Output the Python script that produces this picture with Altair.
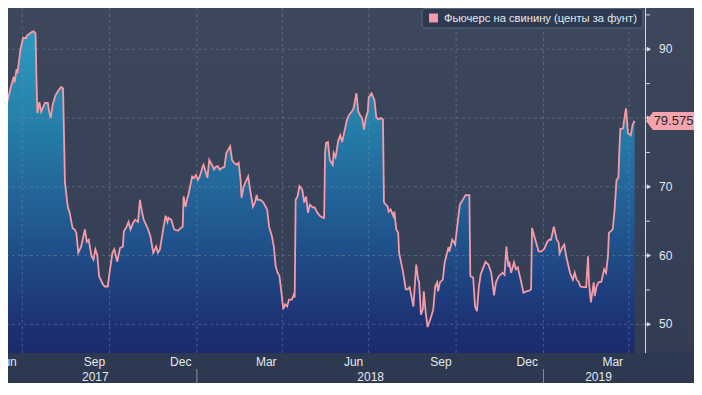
import altair as alt
import pandas as pd

# ---- data (days since 2017-06-08, futures price) ----
days = [0, 3, 5, 7, 11, 14, 15, 17, 18, 21, 24, 27, 28, 33, 35, 37, 38, 39, 41, 43,
        45, 47, 50, 51, 53, 55, 58, 61, 64, 66, 68, 71, 73, 76, 78, 80, 82, 85, 89, 91,
        93, 96, 98, 100, 102, 104, 108, 110, 113, 115, 118, 120, 123, 126, 129, 130, 133, 135, 137, 140,
        142, 145, 147, 149, 151, 155, 158, 161, 164, 166, 168, 172, 174, 176, 177, 180, 183, 187, 190, 192,
        193, 195, 197, 198, 202, 204, 206, 208, 210, 213, 214, 218, 220, 224, 225, 227, 229, 231, 234, 236,
        238, 242, 244, 246, 249, 251, 253, 254, 256, 258, 261, 263, 266, 268, 270, 271, 274, 277, 281, 283,
        286, 288, 290, 292, 294, 296, 298, 300, 302, 304, 307, 309, 310, 311, 313, 315, 318, 320, 322, 324,
        326, 329, 331, 334, 337, 340, 341, 342, 343, 345, 347, 350, 351, 353, 356, 358, 360, 362, 365, 367,
        370, 372, 375, 377, 379, 381, 383, 385, 387, 388, 391, 394, 396, 398, 401, 403, 404, 406, 408, 409,
        411, 414, 415, 417, 419, 420, 424, 427, 429, 431, 435, 436, 438, 440, 441, 443, 445, 446, 448, 450,
        454, 456, 458, 460, 461, 463, 466, 468, 472, 473, 476, 478, 479, 482, 484, 487, 490, 494, 495, 498,
        500, 502, 504, 506, 511, 514, 517, 520, 522, 525, 529, 531, 533, 535, 536, 538, 541, 543, 545, 548,
        551, 554, 557, 559, 560, 562, 567, 570, 573, 576, 578, 580, 583, 586, 588, 589, 592, 594, 596, 598,
        600, 603, 605, 607, 609, 611, 614, 617, 619, 620, 622, 625, 626, 628, 630, 633, 636, 638, 640, 641,
        645, 647, 649, 651, 652, 653, 656, 657, 659, 661, 664, 666, 668]

prices = [82.2, 82.6, 83.0, 82.2, 84.5, 86.0, 85.2, 87.1, 86.5, 89.9, 91.7, 91.6, 92.0, 92.5, 92.6, 92.3, 85.5, 80.7, 82.3, 80.9,
          81.6, 82.2, 82.2, 81.2, 80.0, 81.9, 83.3, 84.0, 84.5, 84.3, 70.6, 67.1, 66.2, 64.0, 63.8, 63.3, 60.4, 61.3, 63.8, 62.0,
          62.3, 59.9, 59.4, 60.9, 60.1, 57.0, 55.8, 55.5, 55.5, 57.5, 60.4, 60.9, 59.1, 61.1, 61.3, 63.5, 64.2, 64.9, 63.8, 64.8,
          65.2, 64.9, 68.1, 66.4, 65.2, 64.0, 62.8, 60.4, 61.3, 60.4, 60.9, 64.2, 65.8, 64.9, 65.5, 65.2, 63.8, 63.6, 64.0, 64.2,
          68.6, 67.1, 68.4, 68.8, 71.5, 71.3, 71.7, 71.0, 71.5, 72.9, 73.2, 71.3, 73.9, 72.9, 72.5, 72.9, 73.0, 72.5, 72.8, 72.9,
          74.9, 75.9, 73.9, 73.5, 73.2, 73.5, 71.0, 68.4, 69.9, 70.6, 71.5, 69.6, 67.1, 67.7, 68.8, 68.1, 68.1, 67.7, 66.7, 64.2,
          62.8, 61.3, 58.4, 57.5, 57.0, 54.6, 52.2, 52.9, 52.6, 53.6, 53.6, 54.3, 53.9, 68.1, 68.6, 70.1, 69.6, 67.7, 68.6, 66.2,
          67.4, 67.0, 67.0, 66.2, 65.7, 65.5, 65.5, 74.9, 76.4, 76.5, 73.9, 73.2, 74.9, 74.3, 76.8, 77.5, 76.5, 77.8, 79.7, 80.4,
          80.9, 81.4, 83.6, 80.9, 80.4, 80.0, 78.3, 80.1, 80.9, 83.0, 83.6, 82.6, 80.1, 79.8, 80.0, 79.8, 67.8, 67.4, 67.1, 66.4,
          66.7, 65.7, 66.4, 63.8, 63.3, 60.4, 57.7, 55.1, 55.1, 55.4, 52.6, 54.6, 58.7, 56.5, 56.2, 51.4, 52.2, 54.8, 51.7, 49.6,
          51.2, 52.2, 55.5, 56.1, 54.8, 56.1, 56.5, 59.0, 61.2, 60.6, 62.3, 61.9, 61.6, 65.2, 67.4, 68.1, 68.8, 68.8, 57.0, 56.8,
          52.6, 51.9, 55.5, 57.3, 59.1, 58.7, 57.5, 54.2, 56.1, 57.0, 57.5, 57.2, 61.3, 58.4, 59.1, 57.5, 59.0, 58.0, 58.3, 56.5,
          54.6, 54.8, 54.9, 55.1, 64.0, 63.0, 60.6, 60.6, 61.0, 62.0, 62.3, 62.3, 64.2, 62.3, 61.9, 60.3, 61.2, 61.6, 59.9, 58.7,
          57.5, 56.5, 57.5, 56.5, 56.2, 55.5, 55.4, 55.4, 59.9, 56.1, 53.2, 56.1, 54.1, 55.5, 56.1, 56.2, 58.0, 57.5, 59.9, 63.3,
          63.8, 66.7, 71.0, 71.3, 75.4, 78.4, 78.5, 79.7, 81.4, 77.8, 77.5, 79.0, 79.575]

series_name = "Фьючерс на свинину (центы за фунт)"

y_ticks = [50, 55, 60, 65, 70, 75, 80, 85, 90, 95]
y_label_values = [50, 60, 70, 90]
y_label_texts = ["50", "60", "70", "90"]
y_major = [50, 60, 70, 80, 90]
quarter_starts = ["2017-07-01", "2017-10-01", "2018-01-01", "2018-04-01",
                  "2018-07-01", "2018-10-01", "2019-01-01", "2019-04-01"]
month_ticks = ["2017-07-01", "2017-08-01", "2017-09-01", "2017-10-01", "2017-11-01", "2017-12-01",
               "2018-01-01", "2018-02-01", "2018-03-01", "2018-04-01", "2018-05-01", "2018-06-01",
               "2018-07-01", "2018-08-01", "2018-09-01", "2018-10-01", "2018-11-01", "2018-12-01",
               "2019-01-01", "2019-02-01", "2019-03-01", "2019-04-01"]
month_labels = ["Jun", "Sep", "Dec", "Mar", "Jun", "Sep", "Dec", "Mar"]
month_label_dates = ["2017-06-15", "2017-09-15", "2017-12-15", "2018-03-15",
                     "2018-06-15", "2018-09-15", "2018-12-15", "2019-03-15"]
year_labels = ["2017", "2018", "2019"]
year_label_dates = ["2017-09-16", "2018-07-03", "2019-02-28"]
year_dividers = ["2018-01-01", "2019-01-01"]

# ---- frames ----
base = pd.Timestamp("2017-06-08")
df = pd.DataFrame({"date": base + pd.to_timedelta(days, unit="D"), "value": prices})
last_df = df.tail(1)


def dt(s):
    return alt.DateTime(year=int(s[:4]), month=int(s[5:7]), date=int(s[8:10]))


W, H = 637, 345
RP, BP = 49, 30
FONT = "Liberation Sans"
TXT = "#e4e8ee"
AXC = "#d2d8e0"
PINK = "#f59ba7"
Y_MIN, Y_MAX = 45.83, 96.0

x_scale = alt.Scale(domain=[dt("2017-06-16"), dt("2019-04-18")])
y_scale = alt.Scale(domain=[Y_MIN, Y_MAX], nice=False, zero=False)

one = pd.DataFrame({"k": [0]})
band = alt.Chart(one).mark_rect(color="#2c3951").encode(
    x=alt.value(0), x2=alt.value(W + RP), y=alt.value(H), y2=alt.value(H + BP))

bg = alt.Chart(one).mark_rect(
    color=alt.Gradient(gradient="linear", x1=0, x2=0, y1=0, y2=1,
                       stops=[alt.GradientStop(color="#3e485c", offset=0),
                              alt.GradientStop(color="#323c53", offset=1)])
).encode(x=alt.value(0), x2=alt.value(W + RP), y=alt.value(0), y2=alt.value(H))

area = alt.Chart(df).mark_area(
    clip=True, opacity=1,
    color=alt.Gradient(gradient="linear", x1=0, x2=0, y1=0, y2=1,
                       stops=[alt.GradientStop(color="#2b9bc0", offset=0),
                              alt.GradientStop(color="#2580aa", offset=0.28),
                              alt.GradientStop(color="#22669a", offset=0.49),
                              alt.GradientStop(color="#1f4b86", offset=0.71),
                              alt.GradientStop(color="#1c2f72", offset=0.93),
                              alt.GradientStop(color="#1b2a6c", offset=1)])
).encode(
    x=alt.X("date:T", scale=x_scale,
            axis=alt.Axis(values=[dt(s) for s in month_ticks], labels=False, grid=False,
                          tickSize=4, tickColor=AXC, domainColor=AXC, title=None)),
    y=alt.Y("value:Q", scale=y_scale, axis=None),
    y2=alt.datum(Y_MIN),
)

grid_style = dict(color="#8290a8", opacity=0.45, strokeDash=[3, 3], strokeWidth=1)
hgrid = alt.Chart(pd.DataFrame({"value": y_major})).mark_rule(**grid_style).encode(
    y=alt.Y("value:Q", scale=y_scale, axis=None))
vgrid = alt.Chart(pd.DataFrame({"date": pd.to_datetime(quarter_starts)})).mark_rule(**grid_style).encode(
    x=alt.X("date:T", scale=x_scale, axis=None))

line = alt.Chart(df).mark_line(clip=True, color=PINK, strokeWidth=1.8).encode(
    x=alt.X("date:T", scale=x_scale, axis=None),
    y=alt.Y("value:Q", scale=y_scale, axis=None))

# right value axis drawn by hand
ydom = alt.Chart(one).mark_rule(color=AXC, strokeWidth=1).encode(
    x=alt.value(W + 0.5), y=alt.value(0), y2=alt.value(H))
yticks = alt.Chart(pd.DataFrame({"value": y_ticks})).mark_rule(color=AXC, strokeWidth=1).encode(
    x=alt.value(W), x2=alt.value(W + 5), y=alt.Y("value:Q", scale=y_scale, axis=None))
tri = alt.Chart(pd.DataFrame({"value": y_major})).mark_point(
    shape="triangle-right", filled=True, size=24, color=AXC, opacity=1
).encode(x=alt.value(W + 4), y=alt.Y("value:Q", scale=y_scale, axis=None))
ylabels = alt.Chart(pd.DataFrame({"value": y_label_values, "label": y_label_texts})).mark_text(
    color=TXT, font=FONT, fontSize=12, align="left", baseline="middle"
).encode(x=alt.value(W + 14), y=alt.Y("value:Q", scale=y_scale, axis=None), text="label:N")

mlab = alt.Chart(pd.DataFrame({"date": pd.to_datetime(month_label_dates), "label": month_labels})).mark_text(
    color=TXT, font=FONT, fontSize=12, baseline="middle", align="center"
).encode(x=alt.X("date:T", scale=x_scale, axis=None), y=alt.value(H + 9), text="label:N")

ylab = alt.Chart(pd.DataFrame({"date": pd.to_datetime(year_label_dates), "label": year_labels})).mark_text(
    color=TXT, font=FONT, fontSize=12, baseline="middle", align="center"
).encode(x=alt.X("date:T", scale=x_scale, axis=None), y=alt.value(H + 24), text="label:N")

ydiv = alt.Chart(pd.DataFrame({"date": pd.to_datetime(year_dividers)})).mark_rule(
    color="#8891a3", strokeWidth=1
).encode(x=alt.X("date:T", scale=x_scale, axis=None), y=alt.value(H + 16), y2=alt.value(H + BP))

badge_path = "M -1 0 L -0.71 -0.375 L 1 -0.375 L 1 0.375 L -0.71 0.375 Z"
badge = alt.Chart(last_df).mark_point(
    shape=badge_path, size=2304, filled=True, color="#f5a3ad", opacity=1
).encode(x=alt.value(W + 25), y=alt.Y("value:Q", scale=y_scale, axis=None))
badge_txt = alt.Chart(last_df).mark_text(
    color="#2a2a2a", font=FONT, fontSize=13, align="center", baseline="middle"
).encode(x=alt.value(W + 28.5), y=alt.Y("value:Q", scale=y_scale, axis=None),
         text=alt.Text("value:Q", format=".3f"))

leg_df = pd.DataFrame({"label": [series_name]})
leg_box = alt.Chart(leg_df).mark_rect(
    fill="#2b3850", fillOpacity=0.9, stroke="#5b677f", strokeWidth=1, cornerRadius=3
).encode(x=alt.value(414), x2=alt.value(635), y=alt.value(0.5), y2=alt.value(20))
leg_sq = alt.Chart(leg_df).mark_square(size=80, filled=True, color=PINK, opacity=1).encode(
    x=alt.value(425.5), y=alt.value(10))
leg_txt = alt.Chart(leg_df).mark_text(
    color=TXT, font=FONT, fontSize=11.2, align="left", baseline="middle"
).encode(x=alt.value(436), y=alt.value(10.5), text="label:N")

chart = alt.layer(
    band, bg, area, hgrid, vgrid, line, ydom, yticks, tri, ylabels, mlab, ylab, ydiv,
    badge, badge_txt, leg_box, leg_sq, leg_txt
).properties(
    width=W, height=H,
    autosize=alt.AutoSizeParams(type="none"),
    padding={"left": 0, "top": 0, "right": RP, "bottom": BP},
    background="#3d475b",
).configure_view(stroke=None)

chart.save("out.html", embed_options={"renderer": "svg", "actions": False})
